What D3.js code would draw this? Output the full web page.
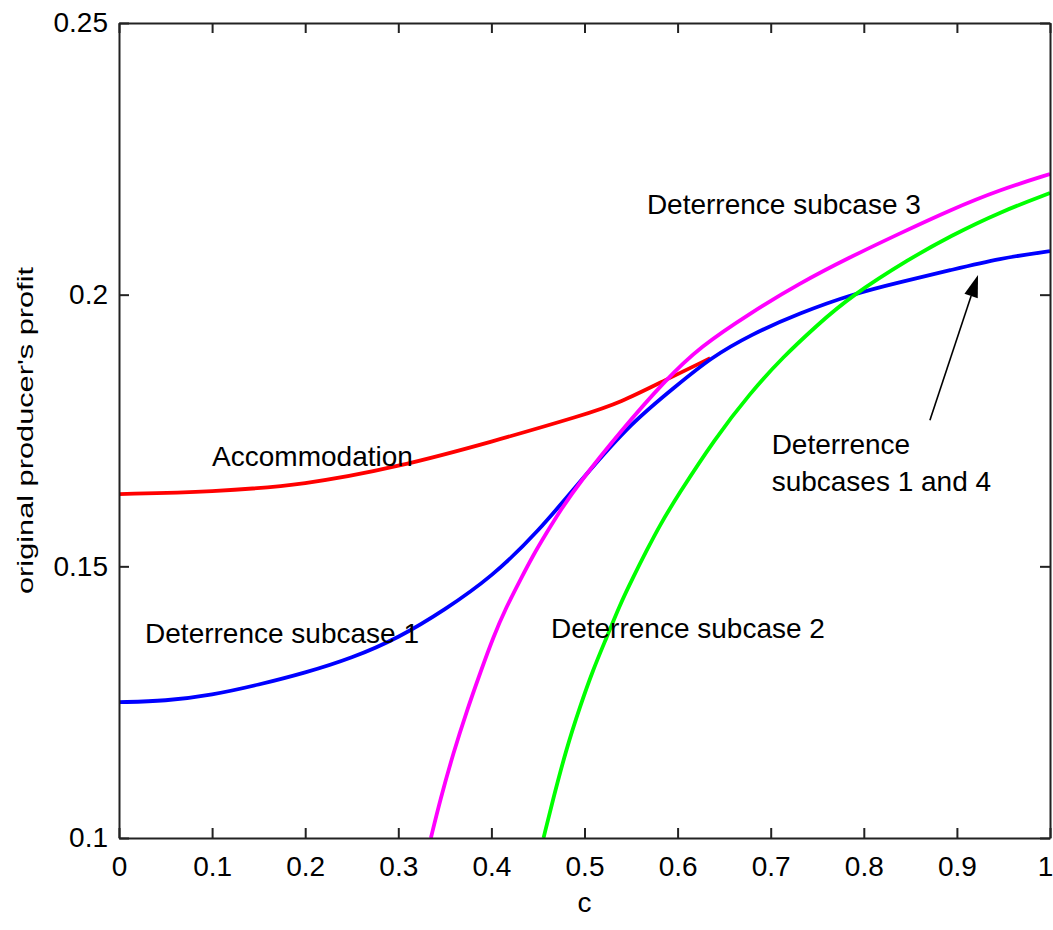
<!DOCTYPE html>
<html>
<head>
<meta charset="utf-8">
<script src="https://cdn.jsdelivr.net/npm/d3@7"></script>
<style>
  body { margin: 0; background: #fff; }
  text { font-family: "Liberation Sans", Arial, sans-serif; fill: #000; }
</style>
</head>
<body>
<script>
// data

var xTicks = [0, 0.1, 0.2, 0.3, 0.4, 0.5, 0.6, 0.7, 0.8, 0.9, 1];
var xTickLabels = ["0", "0.1", "0.2", "0.3", "0.4", "0.5", "0.6", "0.7", "0.8", "0.9", "1"];
var yTicks = [0.1, 0.15, 0.2, 0.25];
var yTickLabels = ["0.1", "0.15", "0.2", "0.25"];

var accomC = [0, 0.1, 0.2, 0.3, 0.4, 0.5, 0.538, 0.587, 0.635];
var accomV = [0.1633, 0.1637, 0.1650, 0.1683, 0.1729, 0.1779, 0.1801, 0.1843, 0.1883];

var sub1C = [0, 0.05, 0.1, 0.15, 0.2, 0.25, 0.3, 0.35, 0.4, 0.45, 0.5, 0.55, 0.6, 0.635, 0.678, 0.731, 0.788, 0.839, 0.893, 0.946, 1];
var sub1V = [0.1250, 0.1252, 0.1263, 0.1282, 0.1304, 0.1331, 0.1368, 0.1420, 0.1480, 0.1563, 0.1666, 0.1764, 0.1834, 0.1883, 0.1926, 0.1966, 0.2001, 0.2023, 0.2045, 0.2067, 0.2080];

var sub2C = [0.456, 0.466, 0.481, 0.495, 0.509, 0.524, 0.538, 0.552, 0.567, 0.581, 0.6, 0.64, 0.678, 0.713, 0.75, 0.785, 0.85, 0.893, 0.946, 1];
var sub2V = [0.1, 0.1070, 0.1167, 0.1241, 0.1309, 0.1370, 0.1429, 0.1479, 0.1530, 0.1576, 0.1630, 0.1735, 0.1819, 0.1885, 0.1944, 0.1996, 0.2067, 0.2108, 0.2152, 0.2187];

var sub3C = [0.335, 0.345, 0.359, 0.374, 0.388, 0.402, 0.416, 0.431, 0.445, 0.459, 0.474, 0.495, 0.538, 0.587, 0.624, 0.678, 0.731, 0.785, 0.839, 0.893, 0.946, 1];
var sub3V = [0.1, 0.1070, 0.1156, 0.1236, 0.1304, 0.1370, 0.1425, 0.1475, 0.1521, 0.1561, 0.1603, 0.1655, 0.1747, 0.1843, 0.1904, 0.1966, 0.2021, 0.2069, 0.2113, 0.2156, 0.2193, 0.2222];

// annotations: [text lines, c, value of first baseline]
var labelNames = [["Accommodation"], ["Deterrence subcase 1"], ["Deterrence subcase 2"], ["Deterrence subcase 3"], ["Deterrence", "subcases 1 and 4"]];
var labelC = [0.100, 0.028, 0.464, 0.567, 0.701];
var labelV = [0.1685, 0.1359, 0.1368, 0.2149, 0.1707];

var arrowFrom = [0.871, 0.1769];
var arrowTo = [0.9227, 0.2036];

// set the dimensions and margins of the graph
var margin = {top: 23, right: 3, bottom: 92, left: 119},
    width = 1053 - margin.left - margin.right,
    height = 930 - margin.top - margin.bottom;

var svg = d3.select("body").append("svg")
    .attr("width", 1053)
    .attr("height", 930)
    .append("g")
    .attr("transform", "translate(" + margin.left + "," + margin.top + ")");

var x = d3.scaleLinear().domain([0, 1]).range([0, width]);
var y = d3.scaleLinear().domain([0.1, 0.25]).range([height, 0]);

svg.append("clipPath").attr("id", "plot")
  .append("rect").attr("width", width).attr("height", height);

function zip(cs, vs) { return cs.map(function(c, i) { return [c, vs[i]]; }); }

var line = d3.line()
    .x(function(d) { return x(d[0]); })
    .y(function(d) { return y(d[1]); })
    .curve(d3.curveBasis);

var series = [
  {pts: zip(accomC, accomV), color: "#ff0000"},
  {pts: zip(sub1C, sub1V), color: "#0000ff"},
  {pts: zip(sub2C, sub2V), color: "#00ff00"},
  {pts: zip(sub3C, sub3V), color: "#ff00ff"}
];

svg.append("g").attr("clip-path", "url(#plot)")
  .selectAll("path").data(series).enter().append("path")
    .attr("fill", "none")
    .attr("stroke", function(d) { return d.color; })
    .attr("stroke-width", 3.8)
    .attr("d", function(d) { return line(d.pts); });

// axes, ticks inside on all four sides
function style(g) {
  g.select(".domain").attr("stroke", "#222").attr("stroke-width", 2);
  g.selectAll(".tick line").attr("stroke", "#222").attr("stroke-width", 2);
  g.selectAll(".tick text").attr("font-size", 28)
    .attr("font-family", "'Liberation Sans', Arial, sans-serif").attr("fill", "#000");
}

var xAxisG = svg.append("g").attr("transform", "translate(0," + height + ")")
  .call(d3.axisBottom(x).tickValues(xTicks).tickFormat(function(d, i) { return xTickLabels[i]; })
    .tickSizeInner(-10).tickSizeOuter(0).tickPadding(18))
  .call(style);
// last label sits at the window edge, nudge it inside
xAxisG.selectAll(".tick text").filter(function(d) { return d === 1; }).attr("dx", -5);

svg.append("g")
  .call(d3.axisLeft(y).tickValues(yTicks).tickFormat(function(d, i) { return yTickLabels[i]; })
    .tickSizeInner(-10).tickSizeOuter(0).tickPadding(11))
  .call(style);

svg.append("g")
  .call(d3.axisTop(x).tickValues(xTicks).tickFormat("").tickSizeInner(-10).tickSizeOuter(0))
  .call(style);

svg.append("g").attr("transform", "translate(" + width + ",0)")
  .call(d3.axisRight(y).tickValues(yTicks).tickFormat("").tickSizeInner(-10).tickSizeOuter(0))
  .call(style);

// axis titles
svg.append("text")
  .attr("x", width / 2).attr("y", height + 74)
  .attr("text-anchor", "middle").attr("font-size", 28)
  .text("c");

svg.append("text")
  .attr("transform", "translate(" + (-86) + "," + (height / 2) + ") rotate(-90)")
  .attr("text-anchor", "middle").attr("font-size", 22)
  .attr("textLength", 327).attr("lengthAdjust", "spacingAndGlyphs")
  .text("original producer's profit");

// curve annotations
labelNames.forEach(function(lines, i) {
  lines.forEach(function(t, j) {
    svg.append("text")
      .attr("x", x(labelC[i]))
      .attr("y", y(labelV[i]) + j * 37)
      .attr("font-size", 28)
      .text(t);
  });
});

// arrow
var x0 = x(arrowFrom[0]), y0 = y(arrowFrom[1]),
    x1 = x(arrowTo[0]), y1 = y(arrowTo[1]);
var ang = Math.atan2(y1 - y0, x1 - x0), headLen = 22, headW = 7;
var bx = x1 - headLen * Math.cos(ang), by = y1 - headLen * Math.sin(ang);

svg.append("line")
  .attr("x1", x0).attr("y1", y0).attr("x2", bx).attr("y2", by)
  .attr("stroke", "#000").attr("stroke-width", 1.6);

svg.append("path")
  .attr("fill", "#000")
  .attr("d", "M" + x1 + "," + y1 +
    "L" + (bx + headW * Math.sin(ang)) + "," + (by - headW * Math.cos(ang)) +
    "L" + (bx - headW * Math.sin(ang)) + "," + (by + headW * Math.cos(ang)) + "Z");
</script>
</body>
</html>
